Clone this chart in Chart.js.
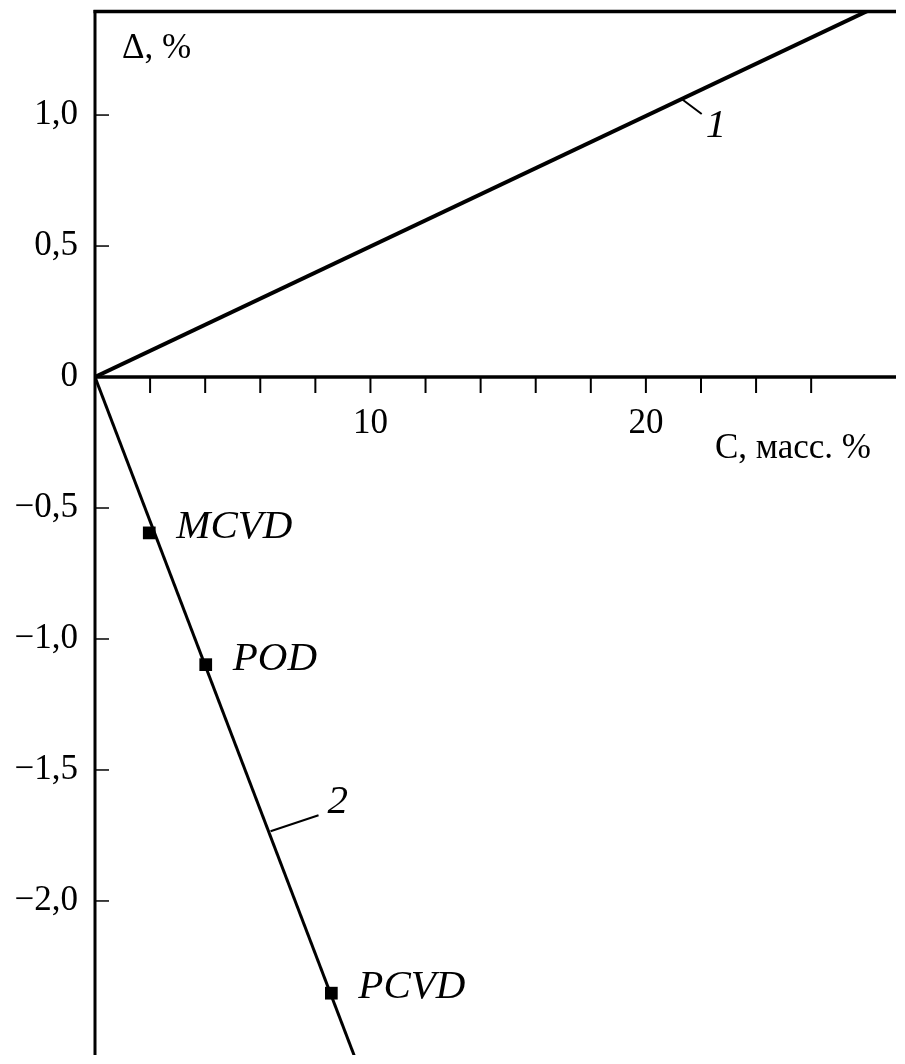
<!DOCTYPE html>
<html>
<head>
<meta charset="utf-8">
<script src="https://cdn.jsdelivr.net/npm/chart.js@4"></script>
<style>
    html, body { margin: 0; padding: 0; background: #fff; overflow: hidden; }
    #wrap { width: 905px; height: 1064px; position: relative; }
    #chart { display: block; }
</style>
</head>
<body>
<div id="wrap"><canvas id="chart"></canvas></div>
<script>
// values
const line1C = [0, 28.3];
const line1Delta = [0, 1.41];
const line2C = [0, 9.41];
const line2Delta = [0, -2.59];

const methodNames = ['MCVD', 'POD', 'PCVD'];
const methodC = [1.97, 4.02, 8.58];
const methodDelta = [-0.595, -1.098, -2.352];

const yTicks = [1.0, 0.5, 0, -0.5, -1.0, -1.5, -2.0];
const yTickLabels = ['1,0', '0,5', '0', '\u22120,5', '\u22121,0', '\u22121,5', '\u22122,0'];
const xTicks = [2, 4, 6, 8, 10, 12, 14, 16, 18, 20, 22, 24, 26];
const xLabelTicks = [10, 20];
const xLabelTexts = ['10', '20'];

const curveNames = ['1', '2'];
const curveMarkC = [21.3, 6.3]; // where the number callouts touch the lines

const serif = '"Liberation Serif", "DejaVu Serif", serif';

function toPoints(xs, ys) {
    return xs.map((x, i) => ({x: x, y: ys[i]}));
}

// axes, ticks, texts and callouts, all placed through the chart scales
const decorPlugin = {
    id: 'decor',
    afterDatasetsDraw(chart) {
        const ctx = chart.ctx;
        const area = chart.chartArea;
        const xs = chart.scales.x;
        const ys = chart.scales.y;
        const x0 = xs.getPixelForValue(0);
        const y0 = ys.getPixelForValue(0);

        ctx.save();
        ctx.strokeStyle = '#000';
        ctx.fillStyle = '#000';
        ctx.lineCap = 'butt';

        // left axis and top frame line
        ctx.lineWidth = 3;
        ctx.beginPath();
        ctx.moveTo(x0, area.top);
        ctx.lineTo(x0, area.bottom);
        ctx.stroke();
        ctx.lineWidth = 3.5;
        ctx.beginPath();
        ctx.moveTo(x0 - 1.5, area.top + 1.5);
        ctx.lineTo(area.right, area.top + 1.5);
        ctx.stroke();

        // x axis at delta = 0
        ctx.lineWidth = 3.5;
        ctx.beginPath();
        ctx.moveTo(x0, y0);
        ctx.lineTo(area.right, y0);
        ctx.stroke();

        // y ticks point inwards
        ctx.lineWidth = 1.5;
        yTicks.forEach(v => {
            if (v === 0) return;
            const py = ys.getPixelForValue(v);
            ctx.beginPath();
            ctx.moveTo(x0, py);
            ctx.lineTo(x0 + 14, py);
            ctx.stroke();
        });

        // x ticks hang below the axis
        ctx.lineWidth = 2;
        xTicks.forEach(v => {
            const px = xs.getPixelForValue(v);
            ctx.beginPath();
            ctx.moveTo(px, y0);
            ctx.lineTo(px, y0 + 16);
            ctx.stroke();
        });

        // tick labels
        ctx.font = '35px ' + serif;
        ctx.textAlign = 'right';
        ctx.textBaseline = 'middle';
        yTicks.forEach((v, i) => {
            ctx.fillText(yTickLabels[i], x0 - 17, ys.getPixelForValue(v));
        });
        ctx.textAlign = 'center';
        ctx.textBaseline = 'alphabetic';
        xLabelTicks.forEach((v, i) => {
            ctx.fillText(xLabelTexts[i], xs.getPixelForValue(v), y0 + 56);
        });

        // axis titles
        ctx.textAlign = 'left';
        ctx.fillText('\u0394, %', x0 + 27, area.top + 48);
        ctx.textAlign = 'right';
        ctx.fillText('C, \u043c\u0430\u0441\u0441. %', area.right - 25, y0 + 81);

        // method labels next to the squares
        ctx.font = 'italic 41px ' + serif;
        ctx.textAlign = 'left';
        methodNames.forEach((name, i) => {
            const px = xs.getPixelForValue(methodC[i]);
            const py = ys.getPixelForValue(methodDelta[i]);
            ctx.fillText(name, px + 27, py + 5);
        });

        // curve number callouts
        const slope1 = line1Delta[1] / line1C[1];
        const slope2 = line2Delta[1] / line2C[1];
        const p1x = xs.getPixelForValue(curveMarkC[0]);
        const p1y = ys.getPixelForValue(curveMarkC[0] * slope1);
        const p2x = xs.getPixelForValue(curveMarkC[1]);
        const p2y = ys.getPixelForValue(curveMarkC[1] * slope2);
        ctx.lineWidth = 2;
        ctx.beginPath();
        ctx.moveTo(p1x, p1y);
        ctx.lineTo(p1x + 20, p1y + 15);
        ctx.moveTo(p2x + 2, p2y);
        ctx.lineTo(p2x + 50, p2y - 16);
        ctx.stroke();
        ctx.fillText(curveNames[0], p1x + 24, p1y + 38);
        ctx.fillText(curveNames[1], p2x + 59, p2y - 18);

        ctx.restore();
    }
};

const ctx = document.getElementById('chart');
new Chart(ctx, {
    type: 'scatter',
    data: {
        datasets: [
            {
                label: '1',
                data: toPoints(line1C, line1Delta),
                showLine: true,
                borderColor: '#000',
                borderWidth: 4,
                pointRadius: 0
            },
            {
                label: '2',
                data: toPoints(line2C, line2Delta),
                showLine: true,
                borderColor: '#000',
                borderWidth: 3,
                pointRadius: 0
            },
            {
                label: 'methods',
                data: toPoints(methodC, methodDelta),
                pointStyle: 'rect',
                pointRadius: 9,
                backgroundColor: '#000',
                borderColor: '#000',
                borderWidth: 0
            }
        ]
    },
    options: {
        responsive: true,
        maintainAspectRatio: false,
        animation: false,
        layout: {
            padding: {left: 95, top: 10, right: 0, bottom: 0}
        },
        plugins: {
            legend: {display: false},
            tooltip: {enabled: false}
        },
        scales: {
            x: {type: 'linear', min: 0, max: 29.08, display: false},
            y: {type: 'linear', min: -2.588, max: 1.401, display: false}
        }
    },
    plugins: [decorPlugin]
});
</script>
</body>
</html>
